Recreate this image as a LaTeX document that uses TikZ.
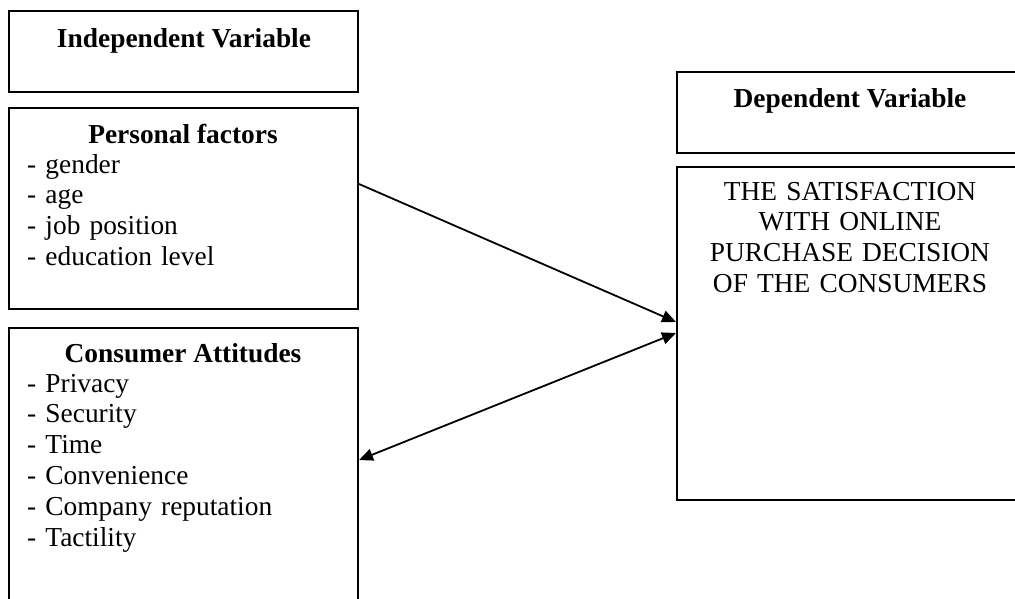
\documentclass[tikz,border=0pt]{standalone}
\usepackage{fontspec}
\setmainfont{Liberation Serif}
\usetikzlibrary{arrows.meta, positioning, calc}

\tikzset{
  frame/.style={draw, line width=2pt, anchor=north west, inner sep=0pt, minimum width=349pt},
  heading/.style={anchor=base, inner sep=0pt, font=\fontsize{27.4}{30.8}\selectfont\bfseries},
  items/.style={anchor=base west, inner sep=0pt, align=left, text width=320pt, font=\fontsize{27.4}{30.8}\selectfont},
  link/.style={line width=1.8pt, >={Triangle[length=14pt, width=12pt]}}
}

\begin{document}
\begin{tikzpicture}[x=1pt, y=-1pt]
  \useasboundingbox (0,0) rectangle (1015,598);
  \clip (0,0) rectangle (1015,598);

  % left column
  \node[frame, minimum height=81pt] (ivbox) at (8,10) {};
  \node[heading] (ivtitle) at (184,47) {Independent Variable};

  \node[frame, minimum height=201pt] (pfbox) at (8,107) {};
  \node[heading] (pftitle) at (183,143) {Personal factors};
  \node[items] (pflist) at (27,173) {- gender\\- age\\- job position\\- education level};

  \node[frame, minimum height=320pt] (cabox) at (8,327) {};
  \node[heading] (catitle) at (183,362) {Consumer Attitudes};
  \node[items] (calist) at (27,392) {- Privacy\\- Security\\- Time\\- Convenience\\- Company reputation\\- Tactility};

  % right column
  \node[frame, minimum width=348pt, minimum height=81pt] (dvbox) at (676,71) {};
  \node[heading] (dvtitle) at (850,107) {Dependent Variable};

  \node[frame, minimum width=348pt, minimum height=333pt] (satbox) at (676,166) {};
  \node[items, anchor=base, align=center, text width=340pt] (sattext) at (850,200)
    {THE SATISFACTION\\WITH ONLINE\\PURCHASE DECISION\\OF THE CONSUMERS};

  % connectors
  \coordinate (pfout) at ($(pfbox.north east)+(0,77)$);
  \coordinate (satin) at ($(satbox.north west)+(0,156)$);
  \coordinate (satback) at ($(satbox.north west)+(0,167)$);
  \coordinate (cain) at ($(cabox.north east)+(0,133)$);
  \draw[link, ->] (pfout) -- (satin);
  \draw[link, <->] (satback) -- (cain);
\end{tikzpicture}
\end{document}
